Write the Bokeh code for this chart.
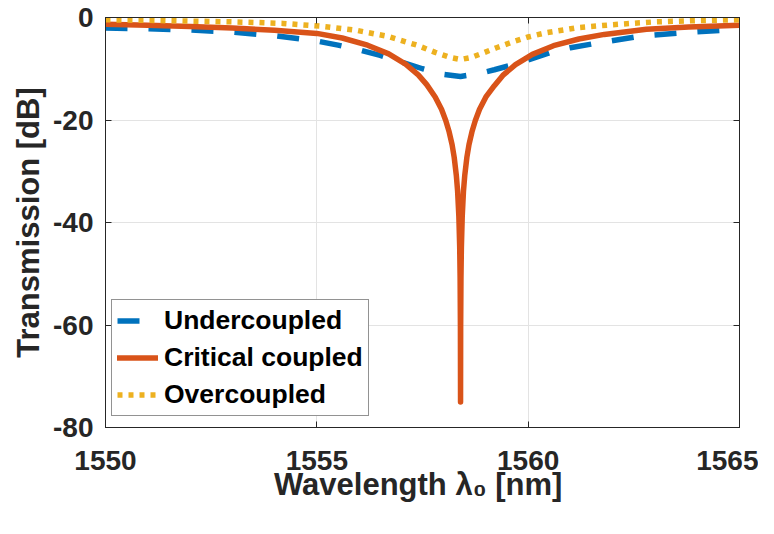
from bokeh.plotting import figure
from bokeh.models import FixedTicker, LinearAxis, Range1d, Legend, LegendItem
from bokeh.embed import file_html
from bokeh.resources import INLINE

# ---- data ----
wl_under = [1550.0, 1551.0, 1552.0, 1553.0, 1554.0, 1555.0, 1555.5, 1556.0, 1556.5,
            1557.0, 1557.5, 1558.0, 1558.4, 1558.8, 1559.2, 1559.6, 1560.0, 1560.65,
            1561.0, 1561.7, 1562.7, 1563.8, 1565.0]
t_under = [-2.05, -2.2, -2.45, -2.85, -3.55, -4.6, -5.4, -6.3, -7.4,
           -8.7, -10.0, -11.1, -11.5, -11.0, -10.2, -9.3, -8.3, -6.5,
           -5.9, -4.9, -3.6, -2.9, -2.3]

wl_crit = [1550.0, 1551.0, 1552.0, 1553.0, 1554.0, 1555.0, 1555.6, 1556.2, 1556.7,
           1557.1, 1557.4, 1557.6, 1557.8, 1557.95, 1558.05, 1558.13, 1558.2, 1558.25,
           1558.3, 1558.33, 1558.36, 1558.38, 1558.39, 1558.397, 1558.4,
           1558.403, 1558.41, 1558.42, 1558.44, 1558.47, 1558.5, 1558.55, 1558.6,
           1558.67, 1558.75, 1558.85, 1559.0, 1559.2, 1559.4, 1559.7, 1560.1,
           1560.6, 1561.2, 1561.8, 1562.8, 1563.8, 1565.0]
t_crit = [-1.3, -1.5, -1.75, -2.05, -2.5, -3.1, -4.0, -5.4, -7.1,
          -9.1, -11.2, -13.1, -15.5, -17.9, -20.1, -22.3, -24.8, -27.3,
          -30.8, -33.8, -38.8, -44.8, -50.8, -60.0, -75.0,
          -60.0, -50.8, -44.8, -38.8, -33.8, -30.8, -27.3, -24.8,
          -22.3, -20.1, -17.9, -15.5, -13.3, -11.3, -9.2, -7.2,
          -5.5, -4.2, -3.3, -2.3, -1.85, -1.5]

wl_over = [1550.0, 1551.0, 1552.0, 1553.0, 1553.5, 1554.2, 1555.1, 1555.9, 1556.66,
           1557.37, 1557.8, 1558.16, 1558.4, 1558.65, 1558.91, 1559.25, 1559.62,
           1560.0, 1560.41, 1561.2, 1562.0, 1563.0, 1564.0, 1565.0]
t_over = [-0.45, -0.55, -0.7, -0.85, -0.96, -1.15, -1.7, -2.45, -3.65,
          -5.4, -6.8, -7.8, -8.2, -7.8, -7.0, -5.9, -4.8,
          -3.8, -3.0, -1.95, -1.4, -0.85, -0.6, -0.45]

series_labels = ["Undercoupled", "Critical coupled", "Overcoupled"]
x_ticks = [1550, 1555, 1560, 1565]
y_ticks = [-80, -60, -40, -20, 0]
y_tick_labels = ["-80", "-60", "-40", "-20", "0"]

FONT = "Liberation Sans"
DARK = "#262626"

p = figure(width=758, height=518,
           x_range=Range1d(1550, 1565), y_range=Range1d(-80, 0),
           output_backend="svg", toolbar_location=None,
           min_border_left=105, min_border_right=19,
           min_border_top=17, min_border_bottom=91)
p.background_fill_color = "white"
p.border_fill_color = "white"
p.outline_line_color = DARK
p.outline_line_width = 1

xt = FixedTicker(ticks=x_ticks)
yt = FixedTicker(ticks=y_ticks)
p.xaxis.ticker = xt
p.yaxis.ticker = yt
p.xgrid.ticker = xt
p.ygrid.ticker = yt
p.grid.grid_line_color = "#e3e3e3"
p.grid.grid_line_width = 1

for ax in (p.xaxis[0], p.yaxis[0]):
    ax.major_tick_in = 6
    ax.major_tick_out = 0
    ax.minor_tick_in = 0
    ax.minor_tick_out = 0
    ax.axis_line_color = DARK
    ax.major_tick_line_color = DARK
    ax.major_label_text_font = FONT
    ax.major_label_text_font_style = "bold"
    ax.major_label_text_font_size = "28px"
    ax.major_label_text_color = DARK
    ax.axis_label_text_font = FONT
    ax.axis_label_text_font_style = "bold"
    ax.axis_label_text_font_size = "31px"
    ax.axis_label_text_color = DARK

p.yaxis.major_label_overrides = dict(zip(y_ticks, y_tick_labels))
p.xaxis.major_label_standoff = 23
p.yaxis.major_label_standoff = 12
p.xaxis.axis_label = "Wavelength  λ₀ [nm]"
p.yaxis.axis_label = "Transmission [dB]"
p.xaxis.axis_label_standoff = -6
p.yaxis.axis_label_standoff = 4

for loc, tk, vals in (("above", xt, x_ticks), ("right", yt, y_ticks)):
    ax = LinearAxis(ticker=tk, major_tick_in=6, major_tick_out=0,
                    minor_tick_in=0, minor_tick_out=0,
                    axis_line_color=DARK, major_tick_line_color=DARK,
                    major_label_standoff=0,
                    major_label_overrides={v: "" for v in vals})
    p.add_layout(ax, loc)

r_u = p.line(wl_under, t_under, line_color="#0072BD", line_width=5.5, line_dash="22 21")
r_c = p.line(wl_crit, t_crit, line_color="#D95319", line_width=5.5,
             line_join="round", line_cap="round")
r_o = p.line(wl_over, t_over, line_color="#EDB120", line_width=5.5, line_dash="5 6")

legend = Legend(items=[LegendItem(label=series_labels[0], renderers=[r_u]),
                       LegendItem(label=series_labels[1], renderers=[r_c]),
                       LegendItem(label=series_labels[2], renderers=[r_o])],
                location=(6, 11),
                label_text_font=FONT, label_text_font_style="bold",
                label_text_font_size="26.5px", label_text_color="black",
                glyph_width=41, glyph_height=29, label_height=29,
                label_standoff=6, padding=5, spacing=6, margin=0,
                border_line_color=DARK, border_line_width=1,
                background_fill_color="white", background_fill_alpha=1.0)
p.add_layout(legend)

open("out.html", "w").write(file_html(p, INLINE))
